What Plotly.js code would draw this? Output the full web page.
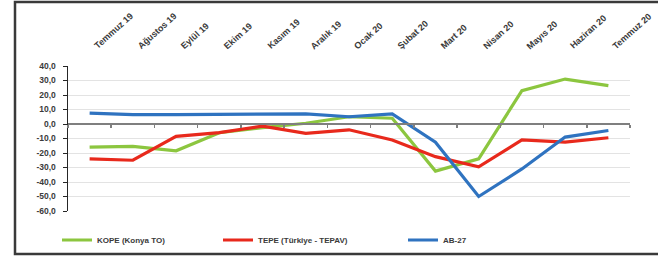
<!DOCTYPE html>
<html>
<head>
<meta charset="utf-8">
<script src="https://cdn.plot.ly/plotly-3.0.1.min.js"></script>
<style>
html,body{margin:0;padding:0;background:#fff;}
#chart{width:658px;height:261px;}
</style>
</head>
<body>
<div id="chart"></div>
<script>
var categories = ['Temmuz 19','Ağustos 19','Eylül 19','Ekim 19','Kasım 19','Aralık 19','Ocak 20','Şubat 20','Mart 20','Nisan 20','Mayıs 20','Haziran 20','Temmuz 20'];
var kopeValues = [-16, -15.5, -18.5, -6, -2.5, 0.5, 5, 4, -32.5, -24, 23, 31, 26.5];
var tepeValues = [-24, -25, -8.5, -6, -1.5, -6.5, -4, -11, -22.5, -29.5, -11, -12.5, -9.5];
var abValues = [7.5, 6.5, 6.5, 6.5, 6.5, 7, 5, 7, -12.5, -50, -31, -9, -4.5];
var seriesNames = ['KOPE (Konya TO)', 'TEPE (Türkiye - TEPAV)', 'AB-27'];
var yTickVals = [40, 30, 20, 10, 0, -10, -20, -30, -40, -50, -60];
var yTickLabels = ['40,0', '30,0', '20,0', '10,0', '0,0', '-10,0', '-20,0', '-30,0', '-40,0', '-50,0', '-60,0'];

var W = 658, H = 261;
var mL = 68, mR = 28, mT = 66, mB = 50;
var pw = W - mL - mR, ph = H - mT - mB;
function px(x){ return (x - mL) / pw; }
function py(y){ return (H - mB - y) / ph; }

var fam = '"Liberation Sans", Arial, sans-serif';
var txtColor = '#3a3a3a';

var traces = [
  {x: categories, y: kopeValues, name: seriesNames[0], type: 'scatter', mode: 'lines',
   line: {color: '#8cc63f', width: 3.2}, legend: 'legend'},
  {x: categories, y: tepeValues, name: seriesNames[1], type: 'scatter', mode: 'lines',
   line: {color: '#e8291c', width: 3.2}, legend: 'legend2'},
  {x: categories, y: abValues, name: seriesNames[2], type: 'scatter', mode: 'lines',
   line: {color: '#2f73c0', width: 3.2}, legend: 'legend3'}
];

var legendBase = {orientation: 'h', yanchor: 'middle', xanchor: 'left',
  yref: 'container', y: (H - 240) / H,
  font: {family: fam, size: 8, color: txtColor, weight: 'bold'},
  bgcolor: 'rgba(0,0,0,0)', itemwidth: 30, tracegroupgap: 0};

var annotations = categories.map(function(c){
  return {x: c, xref: 'x', y: py(54), yref: 'paper', text: c, showarrow: false,
    textangle: -42, xanchor: 'left', yanchor: 'bottom',
    font: {family: fam, size: 9, color: txtColor, weight: 'bold'}};
});

var layout = {
  width: W, height: H,
  margin: {l: mL, r: mR, t: mT, b: mB, pad: 0, autoexpand: false},
  paper_bgcolor: '#ffffff', plot_bgcolor: '#ffffff',
  font: {family: fam, size: 8, color: txtColor},
  showlegend: true,
  xaxis: {
    type: 'category', range: [-0.5, 12.5],
    anchor: 'free', position: 0.6,
    showline: true, linecolor: '#7f7f7f', linewidth: 2,
    ticks: 'outside', ticklen: 3, tickcolor: '#7f7f7f', tickwidth: 1.5,
    tickson: 'boundaries',
    showticklabels: false, showgrid: false, zeroline: false, fixedrange: true
  },
  yaxis: {
    range: [-60, 40], tickvals: yTickVals, ticktext: yTickLabels,
    showline: true, linecolor: '#262626', linewidth: 1.5,
    ticks: 'outside', ticklen: 4, tickcolor: '#262626',
    showgrid: true, gridcolor: '#e3e3e3', gridwidth: 1,
    zeroline: false, automargin: false,
    tickfont: {family: fam, size: 8.5, color: txtColor, weight: 'bold'},
    ticklabelstandoff: 5
  },
  legend: Object.assign({}, legendBase, {x: px(57)}),
  legend2: Object.assign({}, legendBase, {x: px(218)}),
  legend3: Object.assign({}, legendBase, {x: px(403)}),
  annotations: annotations,
  shapes: [
    {type: 'rect', xref: 'paper', yref: 'paper',
     x0: px(15), x1: px(662), y0: py(254), y1: py(2),
     line: {color: '#3a3a3a', width: 2.5}, fillcolor: 'rgba(0,0,0,0)', layer: 'below'}
  ]
};

Plotly.newPlot('chart', traces, layout, {staticPlot: true, displayModeBar: false});
</script>
</body>
</html>
